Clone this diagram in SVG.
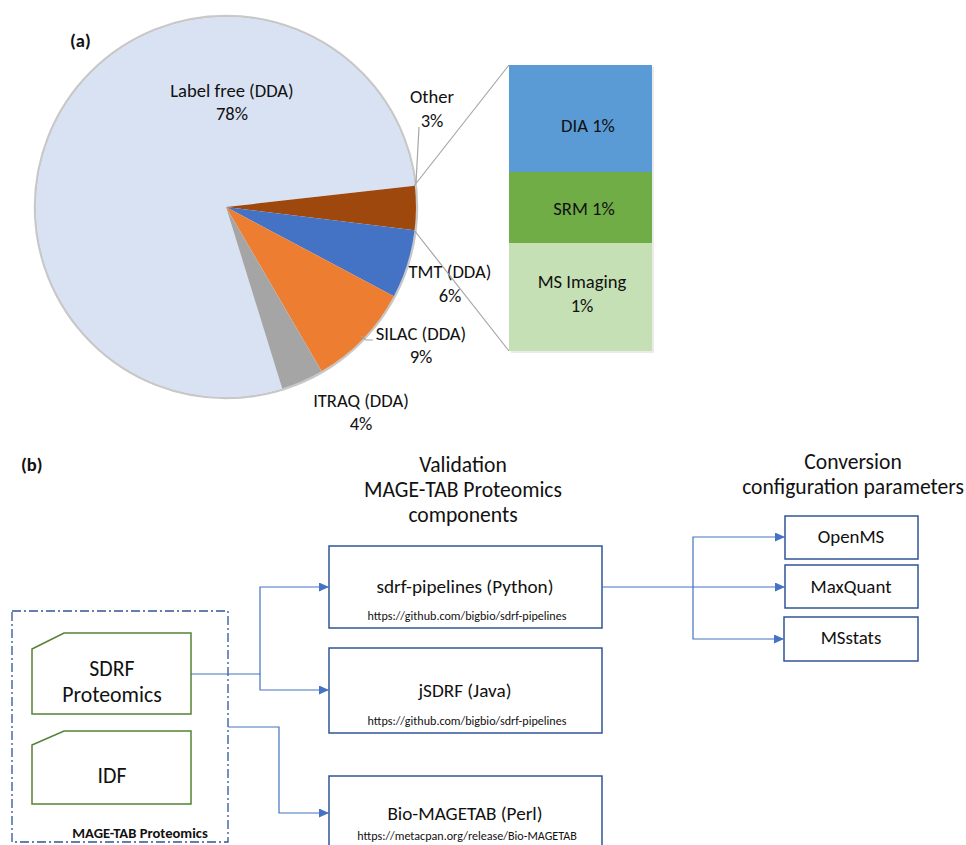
<svg xmlns="http://www.w3.org/2000/svg" width="966" height="845" viewBox="0 0 966 845">
<defs>
<style>
text{font-family:Carlito,Lato,"Liberation Sans",sans-serif;fill:#111;}
.pl{font-size:18.6px;text-anchor:middle;}
.bold{font-weight:bold;}
.hd{font-size:21.6px;text-anchor:middle;}
.box{fill:#fff;stroke:#2F5597;stroke-width:1.5;}
.bt{font-size:19.2px;text-anchor:middle;}
.url{font-size:12.1px;text-anchor:middle;}
.rt{font-size:18.9px;text-anchor:middle;}
.doc{fill:#fff;stroke:#548235;stroke-width:1.5;}
.dt{font-size:21.8px;text-anchor:middle;}
.con{fill:none;stroke:#4472C4;stroke-width:1.2;}
.lead{fill:none;stroke:#A6A6A6;stroke-width:1.2;}
</style>
<marker id="arr" markerWidth="10" markerHeight="9" refX="10" refY="4.5" orient="auto" markerUnits="userSpaceOnUse">
<path d="M0,0 L10,4.5 L0,9 z" fill="#4472C4"/>
</marker>
</defs>
<rect width="966" height="845" fill="#fff"/>

<g id="panel-a-label"><text x="70" y="47" class="bold" font-size="18.5">(a)</text></g>

<g id="pie">
<circle cx="226" cy="207" r="191" fill="none" stroke="#C8C8C8" stroke-width="2.5"/>
<path id="slice-labelfree" d="M226,207 L282.2,388.5 A190,190 0 1 1 414.8,185.8 Z" fill="#D9E2F3"/>
<path id="slice-other" d="M226,207 L414.8,185.8 A190,190 0 0 1 414.6,230.2 Z" fill="#9E480E"/>
<path id="slice-tmt" d="M226,207 L414.6,230.2 A190,190 0 0 1 393.8,296.2 Z" fill="#4472C4"/>
<path id="slice-silac" d="M226,207 L393.8,296.2 A190,190 0 0 1 321.6,371.2 Z" fill="#ED7D31"/>
<path id="slice-itraq" d="M226,207 L321.6,371.2 A190,190 0 0 1 282.2,388.5 Z" fill="#A5A5A5"/>
</g>

<g id="pie-labels">
<text class="pl" x="232" y="97">Label free (DDA)</text>
<text class="pl" x="232" y="120">78%</text>
<text class="pl" x="432" y="103">Other</text>
<text class="pl" x="432" y="127">3%</text>
<text class="pl" x="450" y="278">TMT (DDA)</text>
<text class="pl" x="450" y="302">6%</text>
<text class="pl" x="421" y="340">SILAC (DDA)</text>
<text class="pl" x="421" y="363">9%</text>
<text class="pl" x="361" y="407">ITRAQ (DDA)</text>
<text class="pl" x="361" y="430">4%</text>
</g>

<g id="pie-leaders">
<path class="lead" d="M419,127 L416,183" stroke-width="0.8"/>
<path class="lead" d="M361,336 L366,340 L373,340" stroke-width="0.8"/>
<path class="lead" d="M414,186 L509,65"/>
<path class="lead" d="M414,230 L509,351"/>
</g>

<g id="bar">
<rect x="511" y="67" width="143" height="286" fill="#000" opacity="0.08"/>
<rect id="bar-dia" x="509" y="65" width="143" height="107" fill="#5B9BD5"/>
<rect id="bar-srm" x="509" y="172" width="143" height="71" fill="#70AD47"/>
<rect id="bar-ms" x="509" y="243" width="143" height="108" fill="#C5E0B4"/>
<text class="pl" x="588" y="132">DIA 1%</text>
<text class="pl" x="584" y="215">SRM 1%</text>
<text class="pl" x="582" y="288">MS Imaging</text>
<text class="pl" x="582" y="312">1%</text>
</g>

<g id="panel-b-label"><text x="21" y="471" class="bold" font-size="18.5">(b)</text></g>

<g id="heading-validation">
<text class="hd" x="463" y="472">Validation</text>
<text class="hd" x="463" y="497">MAGE-TAB Proteomics</text>
<text class="hd" x="463" y="522">components</text>
</g>
<g id="heading-conversion">
<text class="hd" x="853" y="469">Conversion</text>
<text class="hd" x="853" y="494">configuration parameters</text>
</g>

<g id="container">
<rect x="12" y="611" width="216" height="231" fill="none" stroke="#2F5597" stroke-width="1.3" stroke-dasharray="9 3 2 3"/>
<text x="140" y="838" class="bold" font-size="14.6" text-anchor="middle">MAGE-TAB Proteomics</text>
</g>

<g id="node-sdrf">
<path class="doc" d="M32,649 L64,633 L191,633 L191,714 L32,714 Z"/>
<text class="dt" x="112" y="676">SDRF</text>
<text class="dt" x="112" y="702">Proteomics</text>
</g>
<g id="node-idf">
<path class="doc" d="M32,745 L64,731 L191,731 L191,804 L32,804 Z"/>
<text class="dt" x="112" y="783">IDF</text>
</g>

<g id="node-sdrf-pipelines">
<rect class="box" x="329" y="546" width="273" height="82"/>
<text class="bt" x="465" y="593">sdrf-pipelines (Python)</text>
<text class="url" x="467" y="620">https://github.com/bigbio/sdrf-pipelines</text>
</g>
<g id="node-jsdrf">
<rect class="box" x="329" y="648" width="273" height="85"/>
<text class="bt" x="465" y="697">jSDRF (Java)</text>
<text class="url" x="467" y="725">https://github.com/bigbio/sdrf-pipelines</text>
</g>
<g id="node-biomagetab">
<rect class="box" x="329" y="776" width="273" height="80"/>
<text class="bt" x="465" y="820">Bio-MAGETAB (Perl)</text>
<text class="url" x="467" y="840">https://metacpan.org/release/Bio-MAGETAB</text>
</g>

<g id="node-openms">
<rect class="box" x="785" y="516" width="133" height="43"/>
<text class="rt" x="851" y="543">OpenMS</text>
</g>
<g id="node-maxquant">
<rect class="box" x="785" y="565" width="133" height="43"/>
<text class="rt" x="851" y="593">MaxQuant</text>
</g>
<g id="node-msstats">
<rect class="box" x="784" y="617" width="134" height="44"/>
<text class="rt" x="851" y="644">MSstats</text>
</g>

<g id="connectors">
<path class="con" d="M191,674 H260 V587 H329" marker-end="url(#arr)"/>
<path class="con" d="M260,674 V690 H329" marker-end="url(#arr)"/>
<path class="con" d="M228,727 H279 V813 H329" marker-end="url(#arr)"/>
<path class="con" d="M602,587 H693 V537 H785" marker-end="url(#arr)"/>
<path class="con" d="M693,587 H785" marker-end="url(#arr)"/>
<path class="con" d="M693,587 V639 H784" marker-end="url(#arr)"/>
</g>
</svg>
